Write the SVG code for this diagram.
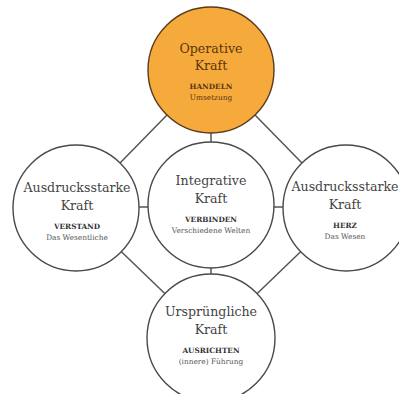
<svg xmlns="http://www.w3.org/2000/svg" width="399" height="394" viewBox="0 0 399 394">
<style>
.c{fill:#fff;stroke:#4a4a4a;stroke-width:1.4}
.o{fill:#F6AA3C;stroke:#5a3b1c;stroke-width:1.4}
.l{stroke:#555;stroke-width:1.5;fill:none}
text{font-family:"DejaVu Serif","Liberation Serif",serif;text-anchor:middle}
.t{font-size:12.6px;fill:#444}
.b{font-size:7.3px;font-weight:bold;fill:#333}
.s{font-size:7.4px;fill:#555}
.ot{fill:#5a3510}
</style>
<rect width="399" height="394" fill="#fff"/>
<g id="connectors">
<line class="l" x1="211" y1="70" x2="76" y2="208"/>
<line class="l" x1="211" y1="70" x2="346" y2="208"/>
<line class="l" x1="76" y1="208" x2="211" y2="338"/>
<line class="l" x1="346" y1="208" x2="211" y2="338"/>
<line class="l" x1="211" y1="70" x2="211" y2="338"/>
<line class="l" x1="76" y1="207" x2="346" y2="207"/>
</g>
<g id="operative">
<circle class="o" cx="211" cy="70" r="63"/>
<text class="t ot" x="211" y="53">Operative</text>
<text class="t ot" x="211" y="70">Kraft</text>
<text class="b ot" x="211" y="89">HANDELN</text>
<text class="s ot" x="211" y="100">Umsetzung</text>
</g>
<g id="ausdruck-links">
<circle class="c" cx="76" cy="208" r="63"/>
<text class="t" x="77" y="192">Ausdrucksstarke</text>
<text class="t" x="77" y="210">Kraft</text>
<text class="b" x="77" y="229">VERSTAND</text>
<text class="s" x="77" y="240">Das Wesentliche</text>
</g>
<g id="integrative">
<circle class="c" cx="211" cy="205" r="63"/>
<text class="t" x="211" y="185">Integrative</text>
<text class="t" x="211" y="203">Kraft</text>
<text class="b" x="211" y="222">VERBINDEN</text>
<text class="s" x="211" y="233">Verschiedene Welten</text>
</g>
<g id="ausdruck-rechts">
<circle class="c" cx="346" cy="208" r="63"/>
<text class="t" x="345" y="191">Ausdrucksstarke</text>
<text class="t" x="345" y="209">Kraft</text>
<text class="b" x="345" y="228">HERZ</text>
<text class="s" x="345" y="239">Das Wesen</text>
</g>
<g id="urspruengliche">
<circle class="c" cx="211" cy="338" r="64"/>
<text class="t" x="211" y="316">Ursprüngliche</text>
<text class="t" x="211" y="334">Kraft</text>
<text class="b" x="211" y="353">AUSRICHTEN</text>
<text class="s" x="211" y="364">(innere) Führung</text>
</g>
</svg>
